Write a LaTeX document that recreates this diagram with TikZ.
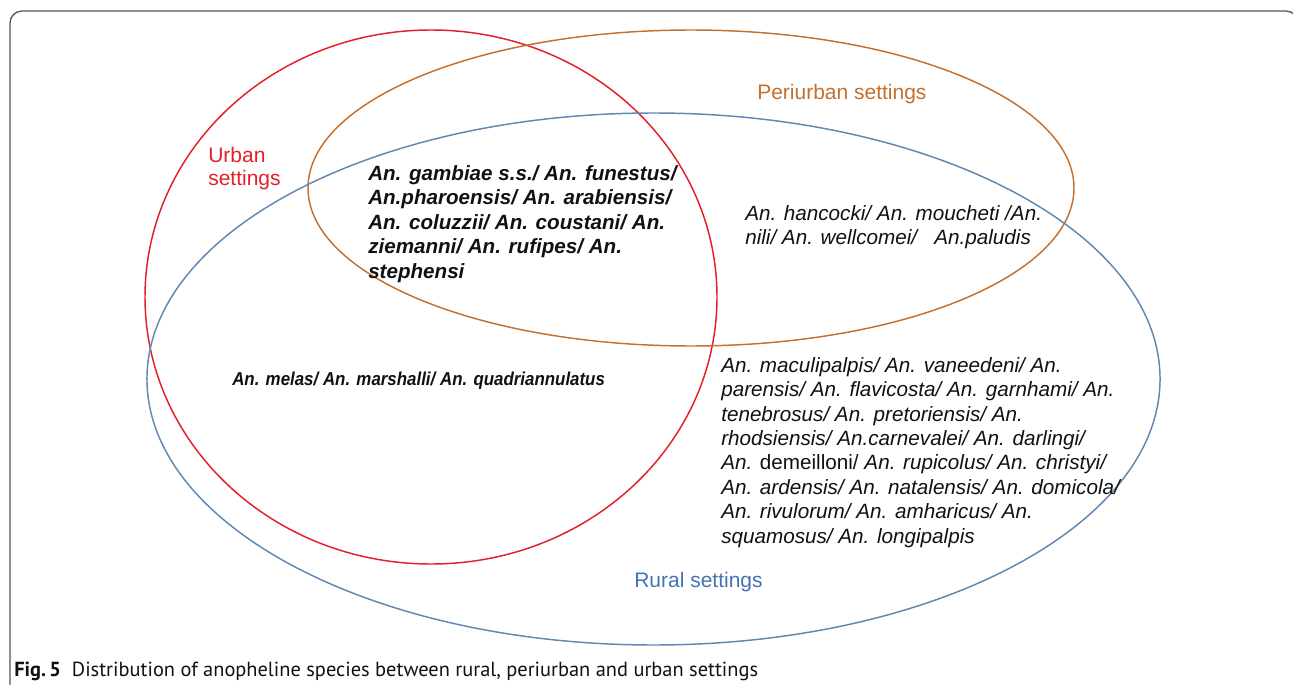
\documentclass[tikz,border=0pt]{standalone}
\usepackage{fontspec}
\setmainfont{Liberation Sans}
\newfontfamily\capfont{PT Sans}
\definecolor{urbanred}{HTML}{E2202A}
\definecolor{periorange}{HTML}{C4702F}
\definecolor{ruralblue}{HTML}{4473B5}
\definecolor{ruralline}{HTML}{5F88B2}
\definecolor{framegray}{HTML}{555555}
\definecolor{textblack}{HTML}{111111}
\tikzset{
  setlabel/.style={inner sep=0pt, font=\fontsize{15.75pt}{17.25pt}\selectfont},
  species/.style={inner sep=0pt, align=left, text=textblack},
  vennline/.style={line width=1.1pt},
}
\begin{document}
\begin{tikzpicture}[x=0.75pt,y=-0.75pt]
\useasboundingbox (0,0) rectangle (1293,685);
\begin{scope}
  \clip (0,0) rectangle (1293,685);
  \draw[framegray, line width=1pt, rounded corners=9pt] (10,11) rectangle (1298,730);
\end{scope}
% ellipses
\draw[vennline, urbanred] (431,297) ellipse [x radius=214.5pt, y radius=200.25pt];
\draw[vennline, periorange] (691,188) ellipse [x radius=287.25pt, y radius=118.5pt];
\draw[vennline, ruralline] (653.5,379) ellipse [x radius=379.9pt, y radius=199.5pt];
% set labels
\node[setlabel, text=urbanred, align=left, anchor=north west] (urban) at (208,146.7) {Urban\\settings};
\node[setlabel, text=periorange, anchor=base west] (periurban) at (757,99) {Periurban settings};
\node[setlabel, text=ruralblue, anchor=base west] (rural) at (634,587) {Rural settings};
% species
\node[species, anchor=north west, font=\fontsize{15.45pt}{18.4pt}\selectfont\bfseries\itshape] (allthree) at (368,165)
  {An. gambiae s.s./ An. funestus/\\An.pharoensis/ An. arabiensis/\\An. coluzzii/ An. coustani/ An.\\ziemanni/ An. rufipes/ An.\\stephensi};
\node[species, anchor=base west, font=\fontsize{14pt}{17pt}\selectfont\bfseries\itshape] (urbrural) at (232,385)
  {\scalebox{0.905}[1]{An. melas/ An. marshalli/ An. quadriannulatus}};
\node[species, anchor=north west, font=\fontsize{15.5pt}{18pt}\selectfont\itshape] (perirural) at (745,205)
  {An. hancocki/ An. moucheti /An.\\nili/ An. wellcomei/\ \ \ An.paludis};
\node[species, anchor=north west, font=\fontsize{15.5pt}{18.3pt}\selectfont\itshape] (ruralonly) at (721,357)
  {An. maculipalpis/ An. vaneedeni/ An.\\parensis/ An. flavicosta/ An. garnhami/ An.\\tenebrosus/ An. pretoriensis/ An.\\rhodsiensis/ An.carnevalei/ An. darlingi/\\An. {\upshape demeilloni/} An. rupicolus/ An. christyi/\\An. ardensis/ An. natalensis/ An. domicola/\\An. rivulorum/ An. amharicus/ An.\\squamosus/ An. longipalpis};
% caption
\node[inner sep=0pt, anchor=base west, font=\capfont\fontsize{15.3pt}{17pt}\selectfont, text=textblack] (caption) at (14,676)
  {\textbf{Fig.\,5}\ \ Distribution of anopheline species between rural, periurban and urban settings};
\end{tikzpicture}
\end{document}
